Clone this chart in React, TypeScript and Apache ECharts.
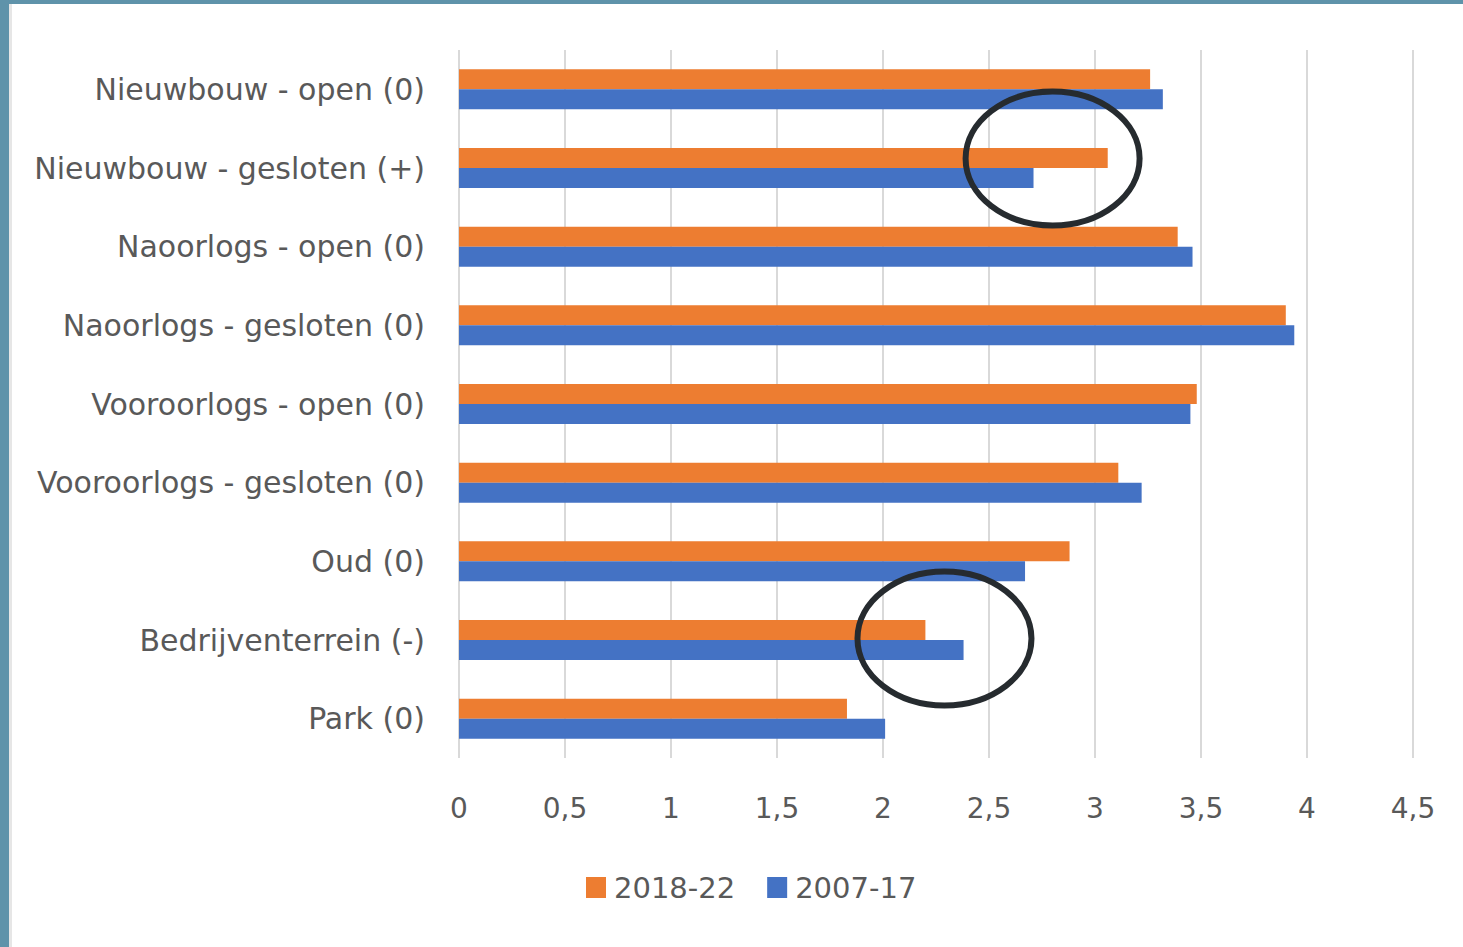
import React, { useEffect, useRef } from "react";
import * as echarts from "echarts";

const categories = [
  "Nieuwbouw - open (0)",
  "Nieuwbouw - gesloten (+)",
  "Naoorlogs - open (0)",
  "Naoorlogs - gesloten (0)",
  "Vooroorlogs - open (0)",
  "Vooroorlogs - gesloten (0)",
  "Oud (0)",
  "Bedrijventerrein (-)",
  "Park (0)",
];
const series2018 = [3.26, 3.06, 3.39, 3.9, 3.48, 3.11, 2.88, 2.2, 1.83];
const series2007 = [3.32, 2.71, 3.46, 3.94, 3.45, 3.22, 2.67, 2.38, 2.01];
const xTicks = { min: 0, max: 4.5, interval: 0.5 };
// annotation ellipses: [x value, fractional category position]
const highlights: [number, number][] = [
  [2.8, 0.88],
  [2.29, 6.98],
];

export default function App() {
  const ref = useRef<HTMLDivElement>(null);
  useEffect(() => {
    const chart = echarts.init(ref.current!, null, { renderer: "svg" });
    const font = "'DejaVu Sans', 'Open Sans', sans-serif";
    chart.setOption({
      animation: false,
      backgroundColor: "#ffffff",
      grid: { left: 459, right: 50, top: 50, bottom: 189 },
      legend: {
        data: ["2018-22", "2007-17"],
        left: 581,
        top: 868,
        itemWidth: 20,
        itemHeight: 21,
        itemGap: 32,
        icon: "rect",
        textStyle: {
          fontFamily: font,
          fontSize: 29,
          color: "#595959",
          padding: [0, 0, 0, 3],
        },
      },
      xAxis: {
        type: "value",
        min: xTicks.min,
        max: xTicks.max,
        interval: xTicks.interval,
        axisLine: { show: false },
        axisTick: { show: false },
        splitLine: { show: true, lineStyle: { color: "#d9d9d9", width: 2 } },
        axisLabel: {
          margin: 36,
          fontFamily: font,
          fontSize: 28,
          color: "#595959",
          formatter: (v: number) => String(v).replace(".", ","),
        },
      },
      yAxis: {
        type: "category",
        data: categories,
        inverse: true,
        axisLine: { show: false },
        axisTick: { show: false },
        axisLabel: {
          margin: 34,
          fontFamily: font,
          fontSize: 30,
          color: "#595959",
        },
      },
      series: [
        {
          name: "2018-22",
          type: "bar",
          data: series2018,
          barWidth: 20,
          barGap: "0%",
          itemStyle: { color: "#ed7d31" },
        },
        {
          name: "2007-17",
          type: "bar",
          data: series2007,
          barWidth: 20,
          barGap: "0%",
          itemStyle: { color: "#4472c4" },
        },
      ],
    });
    const ellipses = highlights.map(([xv, pos]) => {
      const lo = Math.floor(pos);
      const hi = Math.min(lo + 1, categories.length - 1);
      const a = chart.convertToPixel({ gridIndex: 0 }, [xv, lo]) as number[];
      const b = chart.convertToPixel({ gridIndex: 0 }, [xv, hi]) as number[];
      const t = pos - lo;
      return {
        type: "ellipse",
        shape: { cx: a[0], cy: a[1] + (b[1] - a[1]) * t, rx: 87, ry: 67 },
        style: { fill: "none", stroke: "#262b2f", lineWidth: 6 },
        z: 100,
      };
    });
    chart.setOption({
      graphic: [
        { type: "rect", shape: { x: 0, y: 0, width: 9, height: 947 }, style: { fill: "#5f93aa" }, z: 100 },
        { type: "rect", shape: { x: 0, y: 0, width: 1463, height: 4 }, style: { fill: "#5f93aa" }, z: 100 },
        { type: "rect", shape: { x: 9, y: 4, width: 3, height: 943 }, style: { fill: "#e6e6e6" }, z: 99 },
        ...ellipses,
      ],
    });
    return () => chart.dispose();
  }, []);
  return (
    <div
      ref={ref}
      style={{ position: "fixed", left: 0, top: 0, width: 1463, height: 947 }}
    />
  );
}
